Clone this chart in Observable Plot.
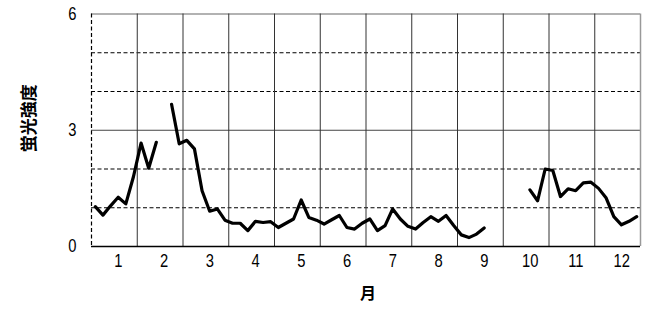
<!DOCTYPE html>
<html>
<head>
<meta charset="utf-8">
<script src="https://cdn.jsdelivr.net/npm/d3@7"></script>
<script src="https://cdn.jsdelivr.net/npm/@observablehq/plot@0.6"></script>
<style>
  html, body { margin: 0; padding: 0; background: white; }
</style>
</head>
<body>
<div id="chart"></div>
<script>
// Month tick labels
const months = ["1","2","3","4","5","6","7","8","9","10","11","12"];
// Y tick values and dashed grid levels
const yTicks = [0, 3, 6];
const dashedLevels = [1, 2, 4, 5];
// Fluorescence intensity per pentad (6 per month, 72 per year); null = no data
const intensity = [
  1.03, 0.81, 1.05, 1.27, 1.10, 1.80,
  2.67, 2.02, 2.69, null, 3.67, 2.65,
  2.74, 2.52, 1.44, 0.91, 0.97, 0.68,
  0.60, 0.60, 0.41, 0.65, 0.62, 0.64,
  0.49, 0.60, 0.71, 1.20, 0.75, 0.68,
  0.58, 0.69, 0.80, 0.49, 0.45, 0.60,
  0.71, 0.41, 0.54, 0.97, 0.71, 0.52,
  0.45, 0.62, 0.77, 0.65, 0.80, 0.54,
  0.30, 0.23, 0.32, 0.48, null, null,
  null, null, null, 1.46, 1.18, 2.00,
  1.96, 1.29, 1.49, 1.44, 1.64, 1.66,
  1.50, 1.25, 0.77, 0.56, 0.65, 0.77
];

const perMonth = 6;
const data = intensity.map((v, i) => ({month: (i + 0.5) / perMonth, value: v}));
const boundaries = months.slice(0, months.length - 1).map((m, i) => i + 1);
const centers = months.map((m, i) => i + 0.5);

const chart = Plot.plot({
  width: 654,
  height: 310,
  marginLeft: 91,
  marginRight: 14,
  marginTop: 13.5,
  marginBottom: 64,
  x: {domain: [0, months.length], axis: null},
  y: {domain: [0, 6], axis: null},
  style: {
    fontFamily: "'Liberation Sans', Arial, sans-serif",
    fontSize: "18px",
    color: "black",
    background: "white"
  },
  marks: [
    Plot.ruleY(dashedLevels, {stroke: "black", strokeWidth: 1.2, strokeDasharray: "4,2.5"}),
    Plot.ruleY([3], {stroke: "#444", strokeWidth: 1}),
    Plot.ruleY([6], {stroke: "#999", strokeWidth: 1.5}),
    Plot.ruleX(boundaries, {stroke: "#333", strokeWidth: 1}),
    Plot.ruleX([months.length], {stroke: "#999", strokeWidth: 1.5}),
    Plot.ruleX([0], {stroke: "black", strokeWidth: 1.2, strokeDasharray: "4,2.5"}),
    Plot.ruleY([0], {stroke: "black", strokeWidth: 1.6}),
    Plot.line(data, {x: "month", y: "value", stroke: "black", strokeWidth: 3.2, strokeLinejoin: "round"}),
    Plot.axisY({ticks: yTicks, tickFormat: d => String(d), label: null, tickSize: 0, tickPadding: 15, fontSize: 18, className: "ytick"}),
    Plot.axisX({ticks: centers, tickFormat: d => months[Math.round(d - 0.5)], label: null, tickSize: 0, tickPadding: 8, dx: 4, fontSize: 18, className: "xtick"}),
    Plot.text(["蛍光強度"], {
      frameAnchor: "left", textAnchor: "middle", dx: -62, dy: -12, rotate: -90,
      fontSize: 17, fontWeight: "bold", letterSpacing: 3,
      fontFamily: "'Noto Sans CJK JP', sans-serif"
    }),
    Plot.text(["月"], {
      frameAnchor: "bottom", dy: 52, dx: 2,
      fontSize: 16, fontWeight: "bold",
      fontFamily: "'Noto Sans CJK JP', sans-serif"
    })
  ]
});
// Narrow the tick-label glyphs to mimic the condensed font of the original
d3.select(chart).selectAll("g.ytick text, g.xtick text").each(function() {
  const t = d3.select(this).attr("transform") || "";
  d3.select(this).attr("transform", t + " scale(0.82,1)");
});
document.getElementById("chart").append(chart);
</script>
</body>
</html>
